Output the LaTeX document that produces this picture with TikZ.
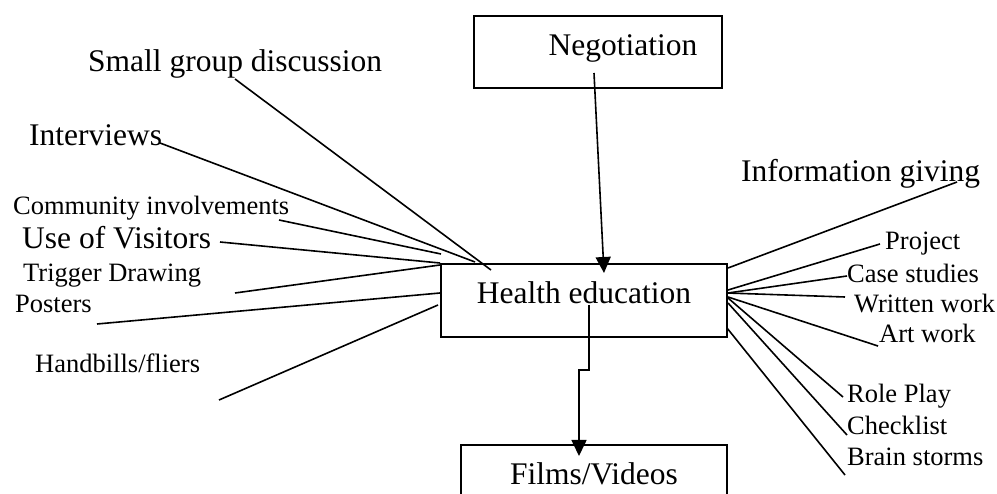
\documentclass[tikz,border=0pt]{standalone}
\usepackage{fontspec}
\setmainfont{Liberation Serif}
\usetikzlibrary{arrows.meta}
\begin{document}
\begin{tikzpicture}[x=1pt,y=-1pt,
  big/.style={font=\fontsize{31.5}{36}\selectfont},
  small/.style={font=\fontsize{26.5}{30}\selectfont},
  lbl/.style={inner sep=0pt, anchor=base west},
  box/.style={draw, line width=2pt, inner sep=0pt},
  ln/.style={line width=1.6pt},
  arr/.style={line width=1.6pt, -{Triangle[length=16pt,width=15pt]}}]
\useasboundingbox (0,0) rectangle (997,494);
\clip (0,0) rectangle (997,494);
% boxes
\node[box,big,minimum width=248pt,minimum height=72pt,text height=20pt,text depth=12pt] (neg) at (598,52) {\hspace*{50pt}Negotiation};
\node[box,big,minimum width=286pt,minimum height=73pt,text height=20pt,text depth=14pt] (he) at (584,300.5) {Health education};
\node[box,big,minimum width=266pt,minimum height=70pt,text height=20pt,text depth=11pt] (fv) at (594,480) {Films/Videos};
% left labels
\node[lbl,big] (sgd) at (88,72) {Small group discussion};
\node[lbl,big] (int) at (29,146) {Interviews};
\node[lbl,small] (com) at (13,215) {Community involvements};
\node[lbl,big] (use) at (22,249) {Use of Visitors};
\node[lbl,small] (trig) at (23,282) {Trigger Drawing};
\node[lbl,small] (post) at (15,313) {Posters};
\node[lbl,small] (hand) at (35,373) {Handbills/fliers};
% right labels
\node[lbl,big] (info) at (741,182) {Information giving};
\node[lbl,small] (proj) at (885,250) {Project};
\node[lbl,small] (case) at (847,283) {Case studies};
\node[lbl,small] (writ) at (854,313) {Written work};
\node[lbl,small] (art) at (879,343) {Art work};
\node[lbl,small] (role) at (847,403) {Role Play};
\node[lbl,small] (check) at (847,435) {Checklist};
\node[lbl,small] (brain) at (847,465) {Brain storms};
% connector end points
\coordinate (sgdA) at (235,79);  \coordinate (sgdB) at (491,270);
\coordinate (intA) at (160,143); \coordinate (intB) at (475,262);
\coordinate (comA) at (279,220); \coordinate (comB) at (441,254);
\coordinate (useA) at (220,242); \coordinate (useB) at (440,263);
\coordinate (trigA) at (235,293); \coordinate (trigB) at (440,265);
\coordinate (postA) at (97,324); \coordinate (postB) at (440,293);
\coordinate (handA) at (219,400); \coordinate (handB) at (438,305);
\coordinate (infoA) at (728,268); \coordinate (infoB) at (957,182);
\coordinate (projA) at (728,290); \coordinate (projB) at (880,244);
\coordinate (caseA) at (728,293); \coordinate (caseB) at (847,276);
\coordinate (writA) at (727,293); \coordinate (writB) at (845,297);
\coordinate (artA) at (728,297);  \coordinate (artB) at (878,346);
\coordinate (roleA) at (728,298); \coordinate (roleB) at (843,397);
\coordinate (checkA) at (728,303); \coordinate (checkB) at (847,435);
\coordinate (brainA) at (727,328); \coordinate (brainB) at (845,475);
\coordinate (negA) at (594,73); \coordinate (negB) at (604,273);
\coordinate (fvA) at (589,305); \coordinate (fvM1) at (589,370); \coordinate (fvM2) at (579,370); \coordinate (fvB) at (579,456);
% connectors
\foreach \n in {sgd,int,com,use,trig,post,hand,info,proj,case,writ,art,role,check,brain}
  \draw[ln] (\n A) -- (\n B);
\draw[arr] (negA) -- (negB);
\draw[arr] (fvA) -- (fvM1) -- (fvM2) -- (fvB);
\end{tikzpicture}
\end{document}
